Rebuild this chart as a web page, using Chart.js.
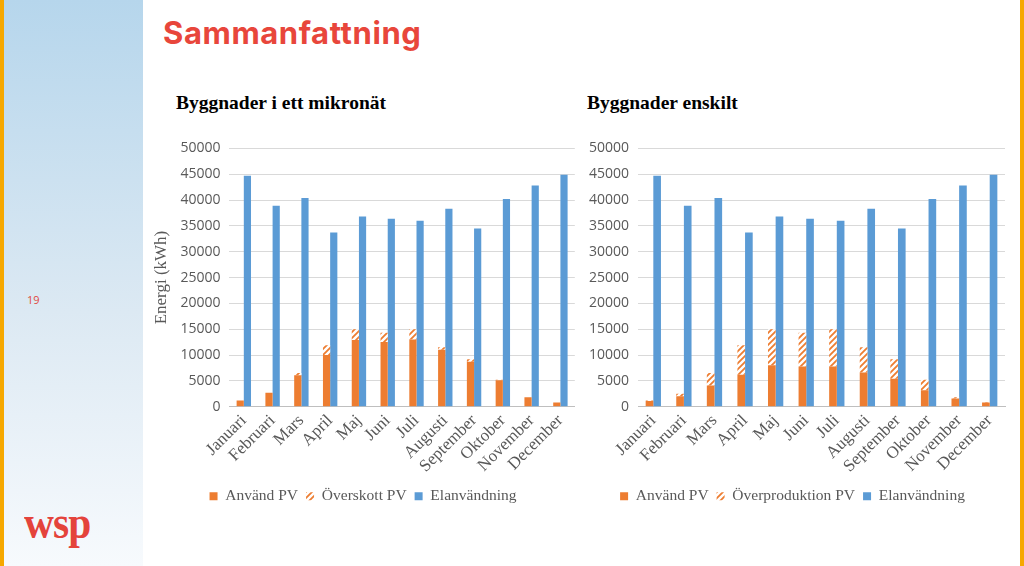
<!DOCTYPE html>
<html>
<head>
<meta charset="utf-8">
<script src="https://cdn.jsdelivr.net/npm/chart.js@4.4.1/dist/chart.umd.min.js"></script>
<style>
  body{margin:0;width:1024px;height:566px;overflow:hidden;background:#fff;position:relative;font-family:"Liberation Serif",serif;}
  .strip{position:absolute;top:0;width:4px;height:566px;background:#f6a800;}
  .side{position:absolute;left:4px;top:0;width:139px;height:566px;background:linear-gradient(#b6d6ec,#dce9f3 55%,#f7fafd);}
  .pg{position:absolute;left:27px;top:292px;font:11px "Open Sans",sans-serif;color:#e04a3f;}
  .logo{position:absolute;left:24px;top:496px;font:bold 46px "Liberation Serif",serif;color:#e4433b;letter-spacing:-1px;transform:scaleX(0.9);transform-origin:left;}
  h1{position:absolute;left:163px;top:14px;margin:0;font:700 31px Inter,"Open Sans",sans-serif;color:#e8463b;letter-spacing:0.6px;}
  .ct{position:absolute;top:92px;margin:0;font:bold 19.5px "Liberation Serif",serif;color:#000;}
  .box{position:absolute;top:131px;height:383px;}
</style>
</head>
<body>
<div class="strip" style="left:0"></div>
<div class="strip" style="left:1020px"></div>
<div class="side"></div>
<div class="pg">19</div>
<div class="logo">wsp</div>
<h1>Sammanfattning</h1>
<div class="ct" style="left:176px">Byggnader i ett mikronät</div>
<div class="ct" style="left:587px">Byggnader enskilt</div>
<div class="box" style="left:151px;width:428px"><canvas id="left"></canvas></div>
<div class="box" style="left:580px;width:429px"><canvas id="right"></canvas></div>

<script>
// ===== DATA =====
const months = ["Januari","Februari","Mars","April","Maj","Juni","Juli","Augusti","September","Oktober","November","December"];
const yTicks = [0,5000,10000,15000,20000,25000,30000,35000,40000,45000,50000];

const elanvandning = [44700,38900,40400,33700,36800,36400,36000,38300,34500,40200,42800,44900];

// mikronät
const anvandPvMikro = [1200,2700,6100,10000,12900,12500,13000,11000,8700,5100,1800,800];
const overskottPv   = [0,0,400,1900,2100,1800,2000,500,500,100,0,0];

// enskilt
const anvandPvEnskilt = [1100,2000,4100,6200,8000,7800,7800,6600,5400,3200,1600,800];
const overproduktionPv = [100,500,2400,5700,7000,6500,7200,4900,3800,2000,200,100];

// ===== COLORS =====
const orange = "#ed7d31";
const blue = "#5b9bd5";
const grey = "#595959";

function hatch(){
    let c = document.createElement("canvas");
    c.width = 6; c.height = 6;
    let g = c.getContext("2d");
    g.fillStyle = "#fff";
    g.fillRect(0,0,6,6);
    g.strokeStyle = orange;
    g.lineWidth = 1.8;
    g.beginPath();
    g.moveTo(-1,7); g.lineTo(7,-1);
    g.moveTo(-4,4); g.lineTo(4,-4);
    g.moveTo(2,10); g.lineTo(10,2);
    g.stroke();
    return g.createPattern(c,"repeat");
}

// ===== CHART =====
function makeChart(id, used, extra, extraLabel, showTitle){
    new Chart(document.getElementById(id), {
        type: "bar",
        data: {
            labels: months,
            datasets: [
                {label: "Använd PV", data: used, backgroundColor: orange, stack: "pv"},
                {label: extraLabel, data: extra, backgroundColor: hatch(), stack: "pv"},
                {label: "Elanvändning", data: elanvandning, backgroundColor: blue, stack: "el"}
            ]
        },
        options: {
            responsive: true,
            maintainAspectRatio: false,
            animation: false,
            layout: {padding: {top: 4, right: 4}},
            datasets: {bar: {categoryPercentage: 0.5, barPercentage: 1}},
            plugins: {
                tooltip: {enabled: false},
                legend: {
                    position: "bottom",
                    labels: {
                        boxWidth: 8, boxHeight: 8, padding: 8,
                        color: grey,
                        font: {family: "Liberation Serif", size: 15.5}
                    }
                }
            },
            scales: {
                x: {
                    stacked: true,
                    grid: {display: false, drawTicks: false},
                    border: {color: "#bfbfbf"},
                    ticks: {
                        color: grey, maxRotation: 45, minRotation: 45, padding: 4,
                        autoSkip: false,
                        font: {family: "Liberation Serif", size: 17}
                    }
                },
                y: {
                    stacked: true,
                    min: 0, max: 50000,
                    afterBuildTicks: s => { s.ticks = yTicks.map(v => ({value: v})); },
                    grid: {color: "#d9d9d9", drawTicks: false},
                    border: {display: false},
                    title: {
                        display: showTitle, text: "Energi (kWh)", color: grey, padding: 0,
                        font: {family: "Liberation Serif", size: 17}
                    },
                    ticks: {
                        color: grey, padding: 9,
                        font: {family: "Open Sans", size: 14},
                        callback: v => String(v)
                    }
                }
            }
        }
    });
}

makeChart("left", anvandPvMikro, overskottPv, "Överskott PV", true);
makeChart("right", anvandPvEnskilt, overproduktionPv, "Överproduktion PV", false);
</script>
</body>
</html>
